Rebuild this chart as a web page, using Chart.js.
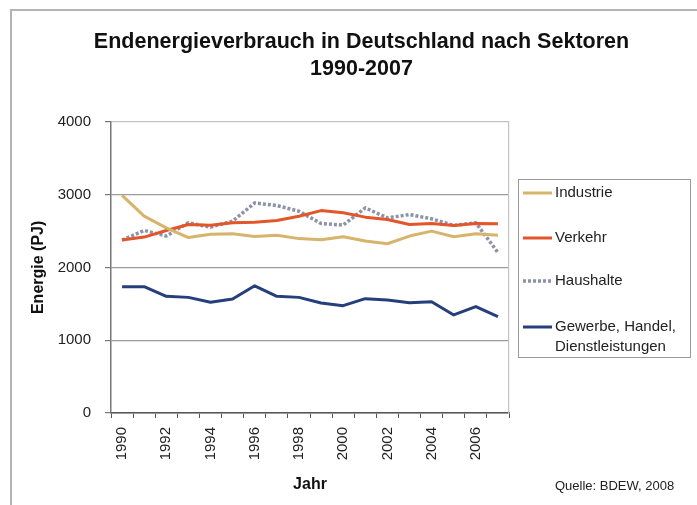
<!DOCTYPE html>
<html>
<head>
<meta charset="utf-8">
<script src="https://cdn.jsdelivr.net/npm/chart.js@4.4.1/dist/chart.umd.min.js"></script>
<style>
  body { margin: 0; background: #fff; }
  #wrap { width: 697px; height: 505px; }
</style>
</head>
<body>
<div id="wrap"><canvas id="myChart" width="697" height="505"></canvas></div>
<script>
// *******************  data

let years = ['1990','1991','1992','1993','1994','1995','1996','1997','1998',
  '1999','2000','2001','2002','2003','2004','2005','2006','2007'];

let industrie = [2990, 2703, 2543, 2410, 2455, 2462, 2425, 2440, 2395,
  2378, 2421, 2362, 2325, 2430, 2498, 2420, 2462, 2440];
let verkehr = [2375, 2416, 2507, 2589, 2580, 2612, 2621, 2644, 2703,
  2780, 2749, 2690, 2658, 2589, 2603, 2576, 2603, 2598];
let haushalte = [2375, 2507, 2430, 2612, 2553, 2635, 2885, 2849, 2771,
  2603, 2580, 2817, 2680, 2726, 2667, 2576, 2612, 2203];
let gewerbe = [1734, 1734, 1602, 1588, 1520, 1566, 1747, 1602, 1588,
  1511, 1474, 1570, 1552, 1515, 1529, 1347, 1461, 1324];

let seriesLabels = ['Industrie', 'Verkehr', 'Haushalte', 'Gewerbe, Handel, Dienstleistungen'];
let yTicks = [0, 1000, 2000, 3000, 4000];

let titleLines = ['Endenergieverbrauch in Deutschland nach Sektoren', '1990-2007'];
let sourceText = 'Quelle: BDEW, 2008';

const FONT = 'Arial, "Liberation Sans", sans-serif';
Chart.defaults.font.family = FONT;
Chart.defaults.color = '#222';

// *******************  plugins: frame, legend box, source

const framePlugin = {
  id: 'frame',
  beforeDraw(chart) {
    let c = chart.ctx;
    c.save();
    c.fillStyle = '#fff';
    c.fillRect(0, 0, chart.width, chart.height);
    c.strokeStyle = '#b4b4b4';
    c.lineWidth = 2;
    c.beginPath();
    c.moveTo(11, chart.height);
    c.lineTo(11, 10);
    c.lineTo(chart.width, 10);
    c.stroke();
    c.restore();
  }
};

function wrapText(c, text, maxW) {
  let words = text.split(' ');
  let lines = [];
  let cur = '';
  for (let w of words) {
    let test = cur ? cur + ' ' + w : w;
    if (c.measureText(test).width > maxW && cur) {
      lines.push(cur);
      cur = w;
    } else {
      cur = test;
    }
  }
  lines.push(cur);
  return lines;
}

const boxLegend = {
  id: 'boxLegend',
  afterDraw(chart) {
    let c = chart.ctx;
    let sets = chart.data.datasets;
    c.save();
    c.strokeStyle = '#9a9a9a';
    c.lineWidth = 1;
    c.strokeRect(518.5, 179.5, 172, 178);
    c.font = '15px ' + FONT;
    c.textBaseline = 'middle';
    c.fillStyle = '#222';
    let rowY = [193, 238, 281, 327];
    sets.forEach((ds, i) => {
      let y = rowY[i];
      c.strokeStyle = ds.borderColor;
      c.lineWidth = ds.borderWidth;
      c.setLineDash(ds.borderDash || []);
      c.beginPath();
      c.moveTo(523, y);
      c.lineTo(552, y);
      c.stroke();
      c.setLineDash([]);
      let lines = wrapText(c, ds.label, 128);
      lines.forEach((ln, k) => c.fillText(ln, 555, y + k * 20));
    });
    c.font = '13px ' + FONT;
    c.fillText(sourceText, 555, 486);
    c.restore();
  }
};

// *******************  chart

let ctx = document.getElementById('myChart');

let myChartObj = {
  type: 'line',
  data: {
    labels: years,
    datasets: [
      { label: seriesLabels[0], data: industrie, borderColor: '#d6b46c', borderWidth: 3 },
      { label: seriesLabels[1], data: verkehr, borderColor: '#e2562a', borderWidth: 3 },
      { label: seriesLabels[2], data: haushalte, borderColor: '#8a93a9', borderWidth: 3.5, borderDash: [3, 2] },
      { label: seriesLabels[3], data: gewerbe, borderColor: '#263f7c', borderWidth: 3 }
    ]
  },
  options: {
    responsive: false,
    animation: false,
    layout: { padding: { left: 26, right: 0, top: 0, bottom: 0 } },
    elements: {
      point: { radius: 0 },
      line: { tension: 0, borderCapStyle: 'butt', borderJoinStyle: 'round' }
    },
    plugins: {
      legend: { display: false },
      tooltip: { enabled: false },
      title: {
        display: true,
        text: titleLines,
        color: '#111',
        font: { size: 21.5, weight: 'bold', lineHeight: 1.25 },
        padding: { top: 29, bottom: 39 }
      }
    },
    scales: {
      x: {
        type: 'category',
        offset: true,
        grid: { offset: true, drawOnChartArea: false, tickLength: 5, tickColor: '#555' },
        border: { color: '#555', width: 1.5 },
        ticks: {
          autoSkip: false,
          minRotation: 90,
          maxRotation: 90,
          padding: 9,
          font: { size: 15 },
          callback: function(val, i) { return i % 2 === 0 ? this.getLabelForValue(val) : ''; }
        },
        title: { display: true, text: 'Jahr', color: '#111', font: { size: 16, weight: 'bold' }, padding: { top: 4, bottom: 11 } },
        afterFit: (s) => { s.height = 92; }
      },
      y: {
        min: 0,
        max: 4000,
        afterBuildTicks: (s) => { s.ticks = yTicks.map(v => ({ value: v })); },
        grid: {
          color: (c) => c.tick && c.tick.value === 4000 ? '#c4c4c4' : '#9c9c9c',
          tickColor: '#777',
          tickLength: 6,
          lineWidth: 1.2
        },
        border: { color: '#777', width: 1.5 },
        ticks: { padding: 14, font: { size: 15 }, callback: (v) => String(v) },
        title: { display: true, text: 'Energie (PJ)', color: '#111', font: { size: 16, weight: 'bold' }, padding: { top: 3, bottom: 4 } },
        afterFit: (s) => { s.width = 85; }
      },
      y2: {
        position: 'right',
        display: true,
        grid: { drawOnChartArea: false, drawTicks: false },
        border: { color: '#c4c4c4', width: 1.2 },
        ticks: { display: false },
        afterFit: (s) => { s.width = 188; }
      }
    }
  },
  plugins: [framePlugin, boxLegend]
};

new Chart(ctx, myChartObj);
</script>
</body>
</html>
